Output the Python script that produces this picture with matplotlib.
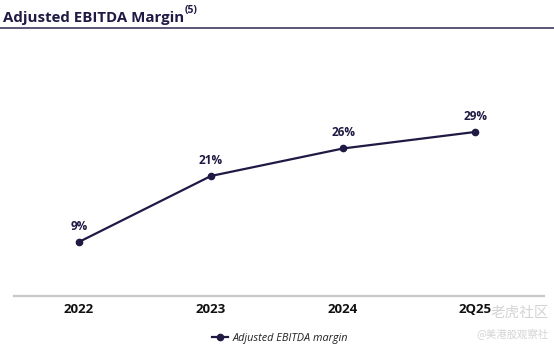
import matplotlib
matplotlib.use("Agg")
import matplotlib.pyplot as plt
from matplotlib.lines import Line2D

plt.rcParams['font.family'] = ['Open Sans', 'DejaVu Sans']

periods = ["2022", "2023", "2024", "2Q25"]
margin = [9, 21, 26, 29]
margin_labels = ["9%", "21%", "26%", "29%"]

navy = "#1f1a44"

fig = plt.figure(figsize=(5.54, 3.49), dpi=100)
ax = fig.add_axes([14 / 554, 53 / 349, 530 / 554, 256 / 349])

x = list(range(len(periods)))
ax.plot(x, margin, color=navy, lw=1.6, marker="o", ms=4.5, zorder=3)
for xi, v, lab in zip(x, margin, margin_labels):
    ax.annotate(lab, (xi, v), xytext=(0, 6.5), textcoords="offset points",
                ha="center", va="bottom", fontsize=8.5, fontweight="bold",
                color=navy)

ax.set_xlim(-0.49, 3.52)
ax.set_ylim(-0.8, 45.7)
ax.set_xticks(x)
ax.set_xticklabels(periods, fontsize=9.5, fontweight="bold", color="#111111")
ax.set_yticks([])
ax.tick_params(axis="x", length=0, pad=5)
for side in ["top", "right", "left"]:
    ax.spines[side].set_visible(False)
ax.spines["bottom"].set_color("#c8c8c8")
ax.spines["bottom"].set_linewidth(1.6)

# header
fig.text(3 / 554, 1 - 18 / 349, "Adjusted EBITDA Margin", fontsize=10.8,
         fontweight="bold", color=navy, va="center", ha="left")
fig.text(185 / 554, 1 - 11 / 349, "(5)", fontsize=7.5, fontweight="bold",
         color=navy, va="center", ha="left")
fig.add_artist(Line2D([0, 1], [1 - 28 / 349, 1 - 28 / 349],
                      transform=fig.transFigure, color="#3d3b5c", lw=1.2))

# legend
handle = Line2D([], [], color=navy, lw=1.6, marker="o", ms=4.5)
fig.legend([handle], ["Adjusted EBITDA margin"], loc="center",
           bbox_to_anchor=(280 / 554, 1 - 338 / 349), frameon=False,
           prop={"size": 7.8, "style": "italic"}, handlelength=1.5,
           handletextpad=0.4, labelcolor="#222222")

# watermark
fig.text(491 / 554, 1 - 313 / 349, "老虎社区", fontsize=10.5,
         family=["Noto Sans CJK SC", "DejaVu Sans"], color="#d4d4d4",
         ha="left", va="center")
fig.text(476 / 554, 1 - 335 / 349, "@美港股观察社", fontsize=7.5,
         family=["Noto Sans CJK SC", "DejaVu Sans"], color="#d4d4d4",
         ha="left", va="center")

fig.savefig("out.png", dpi=100)
